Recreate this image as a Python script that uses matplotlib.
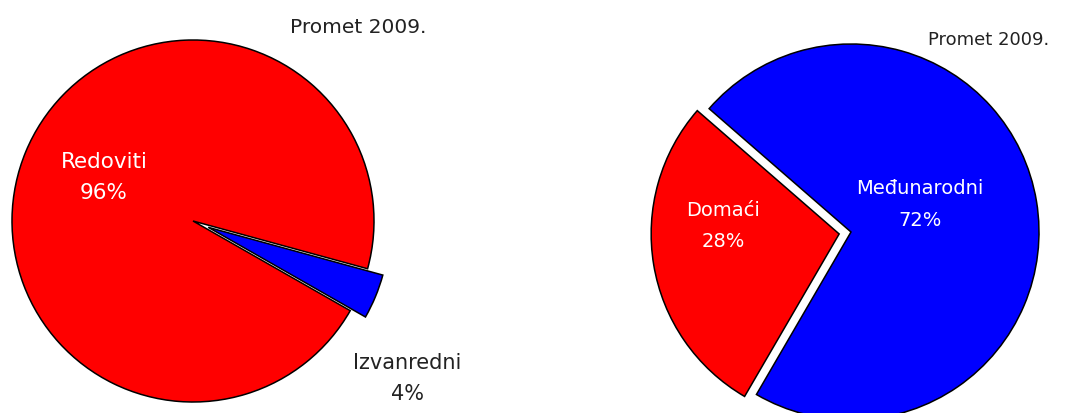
import matplotlib
matplotlib.use("Agg")
import matplotlib.pyplot as plt

W, H = 1069, 414

# left chart: redovni / izvanredni
left_labels = ["Redoviti", "Izvanredni"]
left_values = [96, 4]
left_colors = ["#FF0000", "#0000FF"]

# right chart: domaci / medunarodni
right_labels = ["Domaći", "Međunarodni"]
right_values = [28, 72]
right_colors = ["#FF0000", "#0000FF"]

title = "Promet 2009."

plt.rcParams['font.family'] = ['DejaVu Sans']

fig = plt.figure(figsize=(W / 100, H / 100), dpi=100)
ax = fig.add_axes([0, 0, 1, 1])

wedge_style = dict(edgecolor='black', linewidth=1.1)

# left pie, center at px (193, 222), r=181 (explode is in data units here)
ax.pie(left_values, colors=left_colors, startangle=-15.3, counterclock=True,
       explode=[0, 16.5], center=(193, H - 222), radius=181,
       wedgeprops=wedge_style, frame=True)

# right pie, center at px (851, 233), r=188
ax.pie(right_values, colors=right_colors, startangle=139, counterclock=True,
       explode=[12, 0], center=(851, H - 233), radius=188,
       wedgeprops=wedge_style, frame=True)

ax.set_xlim(0, W)
ax.set_ylim(0, H)
ax.set_aspect('equal')
ax.axis('off')

# labels
def lab(x, y, name, val, color, size):
    ax.text(x, H - y, name, color=color, fontsize=size, ha='center', va='center')
    ax.text(x, H - y - 31, "%d%%" % val, color=color, fontsize=size, ha='center', va='center')

lab(104, 162, left_labels[0], left_values[0], 'white', 15.5)
lab(407, 363, left_labels[1], left_values[1], '#222222', 15)
lab(723, 211, right_labels[0], right_values[0], 'white', 14)
lab(920, 189, right_labels[1], right_values[1], 'white', 14)

ax.text(358, H - 27, title, fontsize=14.5, ha='center', va='center', color='#222222')
ax.text(989, H - 40, title, fontsize=13, ha='center', va='center', color='#222222')

fig.savefig("out.png", dpi=100)
